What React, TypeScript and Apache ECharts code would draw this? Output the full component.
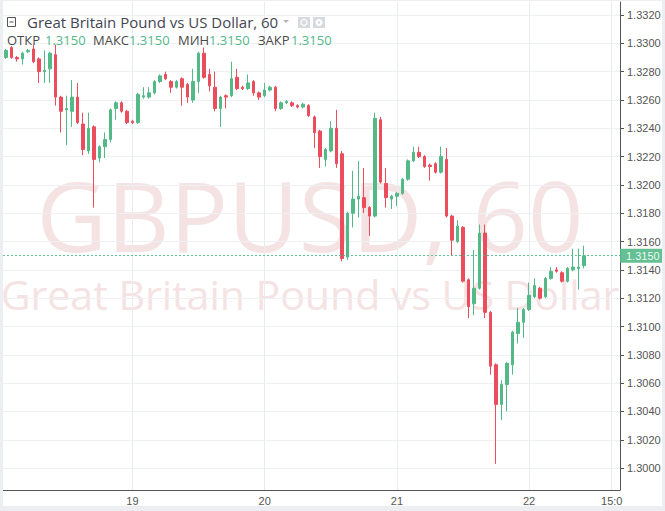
import React, { useEffect, useRef } from "react";
import * as echarts from "echarts";

// ---- categories (hourly, 18th 01:00 .. 22nd 16:00) ----
const startDay = 18;
const startHour = 1;
const slotCount = 112;
const categories: string[] = [];
for (let i = 0; i < slotCount; i++) {
  const t = startHour + i;
  const d = startDay + Math.floor(t / 24);
  const h = t % 24;
  categories.push(`${d} ${String(h).padStart(2, "0")}:00`);
}
const xTickCats = ["19 00:00", "20 00:00", "21 00:00", "22 00:00", "22 15:00"];
const xTickTexts = ["19", "20", "21", "22", "15:0"];

const yTicks = [
  1.3, 1.302, 1.304, 1.306, 1.308, 1.31, 1.312, 1.314, 1.316, 1.318, 1.32,
  1.322, 1.324, 1.326, 1.328, 1.33, 1.332,
];

// ---- OHLC ----
const open = [
  1.329, 1.3297, 1.329, 1.3289, 1.3294, 1.3296, 1.3289, 1.328, 1.3282, 1.3292,
  1.3262, 1.3253, 1.3252, 1.3262, 1.3243, 1.3224, 1.3241, 1.3219, 1.3227, 1.3232,
  1.3254, 1.3258, 1.3252, 1.3245, 1.3244, 1.3262, 1.3262, 1.3265, 1.3273, 1.3278,
  1.3273, 1.3269, 1.3275, 1.3271, 1.326, 1.3273, 1.3293, 1.3278, 1.3269, 1.3254,
  1.3263, 1.3263, 1.3276, 1.3269, 1.3268, 1.3273, 1.3265, 1.3263, 1.3267, 1.3269,
  1.3254, 1.3258, 1.3258, 1.3256, 1.3255, 1.3256, 1.3248, 1.3238, 1.3218, 1.3224,
  1.324, 1.3222, 1.3149, 1.318, 1.319, 1.3191, 1.3184, 1.3178, 1.3246, 1.3201,
  1.319, 1.3192, 1.3194, 1.3204, 1.3217, 1.3223, 1.322, 1.3214, 1.3215, 1.3209,
  1.3218, 1.3178, 1.316, 1.317, 1.3133, 1.3116, 1.3127, 1.3166, 1.311, 1.3073,
  1.3045, 1.3059, 1.3073, 1.3095, 1.3103, 1.3112, 1.3121, 1.3127, 1.3121, 1.3134,
  1.314, 1.3138, 1.3132, 1.314, 1.3141, 1.3143,
];
const close = [
  1.3295, 1.329, 1.3289, 1.3293, 1.3295, 1.3287, 1.328, 1.3281, 1.3293, 1.3262,
  1.3252, 1.3254, 1.3262, 1.3244, 1.3225, 1.324, 1.3218, 1.3227, 1.3232, 1.3253,
  1.3258, 1.3252, 1.3244, 1.3244, 1.3264, 1.3263, 1.3265, 1.3273, 1.3277, 1.3275,
  1.3269, 1.3273, 1.3269, 1.3262, 1.3273, 1.3293, 1.3276, 1.327, 1.3254, 1.3262,
  1.3262, 1.3275, 1.3268, 1.3268, 1.3272, 1.3265, 1.3262, 1.3267, 1.3269, 1.3254,
  1.3258, 1.3259, 1.3256, 1.3255, 1.3257, 1.3249, 1.3237, 1.322, 1.3225, 1.324,
  1.3215, 1.3148, 1.318, 1.319, 1.3192, 1.3184, 1.3178, 1.3247, 1.3202, 1.3191,
  1.3192, 1.3194, 1.3204, 1.3217, 1.3223, 1.322, 1.3213, 1.3213, 1.3209, 1.322,
  1.3178, 1.3161, 1.3171, 1.3132, 1.3114, 1.3127, 1.3166, 1.311, 1.3072, 1.3045,
  1.3059, 1.3074, 1.3096, 1.3103, 1.3112, 1.3122, 1.3129, 1.312, 1.3134, 1.3139,
  1.3139, 1.3132, 1.3141, 1.3142, 1.3142, 1.315,
];
const low = [
  1.3289, 1.3289, 1.3287, 1.3285, 1.3293, 1.3286, 1.3272, 1.3272, 1.3272, 1.3256,
  1.3237, 1.3228, 1.3241, 1.3243, 1.3221, 1.3222, 1.3184, 1.3216, 1.3219, 1.323,
  1.3246, 1.3251, 1.3243, 1.3243, 1.3243, 1.3261, 1.3261, 1.3264, 1.3272, 1.3274,
  1.3265, 1.3268, 1.3256, 1.3258, 1.3258, 1.3265, 1.3275, 1.3266, 1.3252, 1.3241,
  1.3254, 1.3262, 1.3267, 1.3267, 1.3267, 1.3263, 1.326, 1.3262, 1.3266, 1.3252,
  1.3253, 1.3257, 1.3255, 1.3254, 1.3254, 1.3248, 1.3226, 1.3212, 1.3213, 1.3223,
  1.3212, 1.3146, 1.3147, 1.317, 1.3177, 1.318, 1.3164, 1.3177, 1.3201, 1.3184,
  1.3183, 1.3185, 1.3193, 1.3203, 1.3216, 1.3219, 1.3212, 1.3203, 1.3208, 1.3208,
  1.3177, 1.315, 1.3159, 1.3131, 1.3106, 1.3108, 1.3126, 1.3106, 1.3066, 1.3003,
  1.3034, 1.304, 1.3066, 1.3088, 1.3092, 1.3111, 1.312, 1.3119, 1.312, 1.3133,
  1.3138, 1.3131, 1.3131, 1.3139, 1.3126, 1.3141,
];
const high = [
  1.3296, 1.3298, 1.3291, 1.3294, 1.3296, 1.3299, 1.329, 1.3295, 1.3294, 1.3299,
  1.3263, 1.3263, 1.3274, 1.3272, 1.3251, 1.3251, 1.3242, 1.3228, 1.3237, 1.3254,
  1.3259, 1.3259, 1.3253, 1.3246, 1.3265, 1.3269, 1.3269, 1.3274, 1.3278, 1.328,
  1.3274, 1.3274, 1.3276, 1.3272, 1.3282, 1.3294, 1.3297, 1.3282, 1.328, 1.3263,
  1.3264, 1.3287, 1.3282, 1.327, 1.3278, 1.3274, 1.3266, 1.3272, 1.327, 1.327,
  1.3259, 1.326, 1.3259, 1.3257, 1.3258, 1.3257, 1.3249, 1.3239, 1.3226, 1.3245,
  1.3253, 1.3224, 1.3181, 1.321, 1.3217, 1.3212, 1.3185, 1.3251, 1.3248, 1.3212,
  1.3193, 1.3195, 1.3205, 1.3218, 1.3227, 1.3227, 1.3221, 1.3215, 1.3216, 1.3227,
  1.3226, 1.3179, 1.3175, 1.3171, 1.3134, 1.3154, 1.3172, 1.3172, 1.3111, 1.3074,
  1.3062, 1.3075, 1.3097, 1.3113, 1.3113, 1.3131, 1.3134, 1.3128, 1.3135, 1.3142,
  1.3142, 1.3139, 1.3142, 1.3155, 1.3155, 1.3157,
];

const lastPrice = 1.315;
const upColor = "#53b987";
const downColor = "#eb4d5c";
const font = "'Open Sans', sans-serif";
const axisFont = "'Liberation Sans', Arial, sans-serif";

export default function App() {
  const ref = useRef<HTMLDivElement>(null);
  useEffect(() => {
    document.body.style.margin = "0";
    if (!ref.current) return;
    const chart = echarts.init(ref.current, undefined, { renderer: "svg" });
    const isTick = (i: number) => xTickCats.indexOf(categories[i]) >= 0;
    const candles = open.map((o, i) => [o, close[i], low[i], high[i]]);
    const headerItems: any[] = [];
    const hdr: [string, number, string][] = [
      ["ОТКР", 7, "#4a4a4a"],
      ["1.3150", 45, upColor],
      ["МАКС", 93, "#4a4a4a"],
      ["1.3150", 129, upColor],
      ["МИН", 178, "#4a4a4a"],
      ["1.3150", 209, upColor],
      ["ЗАКР", 258, "#4a4a4a"],
      ["1.3150", 291, upColor],
    ];
    hdr.forEach(([t, x, c]) =>
      headerItems.push({
        type: "text",
        x,
        y: 40,
        z: 100,
        style: { text: t, fill: c, font: `13px ${font}`, verticalAlign: "middle" },
      })
    );
    chart.setOption({
      animation: false,
      backgroundColor: "#ffffff",
      grid: { left: 3, right: 45, top: 2, bottom: 21, containLabel: false },
      xAxis: {
        type: "category",
        data: categories,
        boundaryGap: true,
        axisLine: { lineStyle: { color: "#555", width: 1 } },
        axisTick: {
          alignWithLabel: true,
          interval: (i: number) => isTick(i),
          length: 4,
          lineStyle: { color: "#555" },
        },
        axisLabel: {
          interval: (i: number) => isTick(i),
          formatter: (v: string) => {
            const k = xTickCats.indexOf(v);
            return k >= 0 ? xTickTexts[k] : "";
          },
          color: "#555",
          fontSize: 11,
          margin: 5,
          fontFamily: axisFont,
        },
        splitLine: {
          show: true,
          interval: (i: number) => isTick(i),
          alignWithLabel: true,
          lineStyle: { color: "#e9edf1", width: 1 },
        },
      },
      yAxis: {
        type: "value",
        position: "right",
        min: 1.298453,
        max: 1.332918,
        axisLine: { show: true, lineStyle: { color: "#555", width: 1 } },
        axisTick: {
          show: true,
          customValues: yTicks,
          length: 4,
          lineStyle: { color: "#555" },
        },
        axisLabel: {
          customValues: yTicks,
          formatter: (v: number) => v.toFixed(4),
          color: "#555",
          fontSize: 11,
          margin: 7,
          fontFamily: axisFont,
        },
        splitLine: { show: true, lineStyle: { color: "#eef1f4", width: 1 } },
      },
      series: [
        {
          type: "candlestick",
          data: candles,
          barWidth: 3,
          itemStyle: {
            color: upColor,
            color0: downColor,
            borderColor: upColor,
            borderColor0: downColor,
            borderWidth: 1,
          },
          markLine: {
            silent: true,
            precision: 4,
            symbol: ["none", "none"],
            data: [{ yAxis: lastPrice }],
            lineStyle: { color: upColor, type: [2, 2], width: 1, opacity: 0.9 },
            label: {
              show: true,
              position: "end",
              distance: 0,
              formatter: () => lastPrice.toFixed(4),
              backgroundColor: upColor,
              color: "#fff",
              fontSize: 11,
              padding: [2, 8, 1, 6],
              fontFamily: axisFont,
            },
          },
        },
      ],
      graphic: [
        // watermark
        {
          type: "text",
          x: 310,
          y: 214,
          z: -10,
          silent: true,
          style: {
            text: "GBPUSD, 60",
            fill: "#f5e3e4",
            font: `97px ${font}`,
            lineHeight: 72,
            align: "center",
            verticalAlign: "middle",
          },
        },
        {
          type: "text",
          x: 310,
          y: 294,
          z: -10,
          silent: true,
          style: {
            text: "Great Britain Pound vs US Dollar",
            fill: "#f5e3e4",
            font: `41px ${font}`,
            lineHeight: 30,
            align: "center",
            verticalAlign: "middle",
          },
        },
        // frame
        { type: "rect", z: 100, shape: { x: 0, y: 0, width: 3, height: 511 }, style: { fill: "#eceef1" } },
        { type: "rect", z: 100, shape: { x: 662, y: 0, width: 3, height: 511 }, style: { fill: "#eceef1" } },
        { type: "rect", z: 100, shape: { x: 0, y: 506, width: 665, height: 5 }, style: { fill: "#eceef1" } },
        { type: "rect", z: 100, shape: { x: 0, y: 0, width: 665, height: 1 }, style: { fill: "#eceef1" } },
        // header
        {
          type: "rect",
          z: 100,
          shape: { x: 7.5, y: 17.5, width: 8, height: 9 },
          style: { fill: "#fff", stroke: "#555", lineWidth: 1 },
        },
        {
          type: "line",
          z: 101,
          shape: { x1: 9.5, y1: 22, x2: 13.5, y2: 22 },
          style: { stroke: "#555", lineWidth: 1 },
        },
        {
          type: "text",
          x: 27,
          y: 22,
          z: 100,
          style: {
            text: "Great Britain Pound vs US Dollar, 60",
            fill: "#434651",
            font: `15px ${font}`,
            verticalAlign: "middle",
          },
        },
        {
          type: "polygon",
          z: 100,
          shape: { points: [[283, 20], [289, 20], [286, 23]] },
          style: { fill: "#b2b5be" },
        },
        { type: "rect", z: 100, shape: { x: 298, y: 17, width: 12, height: 11 }, style: { fill: "#d6d9de" } },
        { type: "circle", z: 101, shape: { cx: 304, cy: 22.5, r: 3 }, style: { fill: "none", stroke: "#fff", lineWidth: 1.2 } },
        { type: "rect", z: 100, shape: { x: 313, y: 17, width: 12, height: 11 }, style: { fill: "#d6d9de" } },
        { type: "circle", z: 101, shape: { cx: 319, cy: 22.5, r: 3.5 }, style: { fill: "#fff" } },
        { type: "circle", z: 102, shape: { cx: 319, cy: 22.5, r: 1.3 }, style: { fill: "#d6d9de" } },
        ...headerItems,
      ],
    });
    return () => chart.dispose();
  }, []);
  return <div ref={ref} style={{ width: 665, height: 511 }} />;
}
